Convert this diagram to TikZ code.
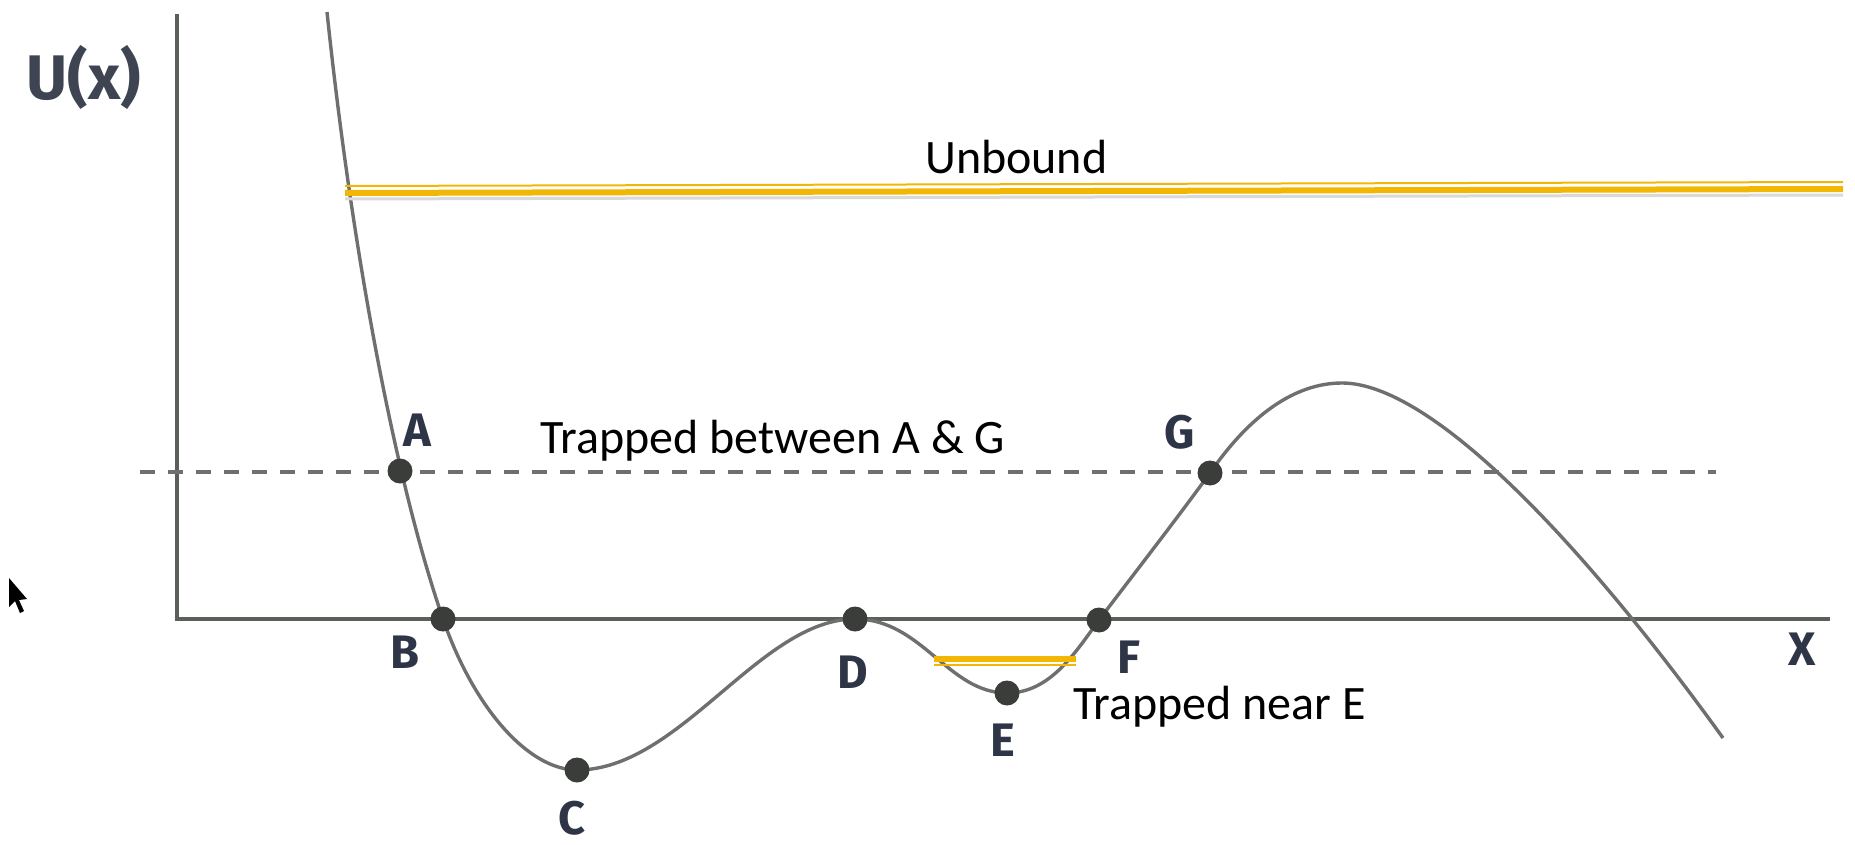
\documentclass[tikz,border=0pt]{standalone}
\usepackage{fontspec}
\setmainfont{Carlito}
\newfontfamily\lblfont{Fira Sans}
\definecolor{axiscol}{HTML}{5A5F5A}
\definecolor{curvecol}{HTML}{6E706E}
\definecolor{dotcol}{HTML}{3A3D3A}
\definecolor{lblcol}{HTML}{2E3546}
\definecolor{gold}{HTML}{F2B705}
\tikzset{
  axisline/.style={draw=axiscol, line width=4.5pt},
  curveline/.style={draw=curvecol, line width=3.4pt},
  ptdot/.style={circle, fill=dotcol, inner sep=0pt, minimum size=25pt},
  ptlbl/.style={font=\lblfont\bfseries\fontsize{47}{52}\selectfont, text=lblcol, inner sep=0pt},
  txt/.style={font=\fontsize{48}{56}\selectfont, text=black, inner sep=0pt},
  goldthick/.style={draw=gold, line width=6pt},
  goldthin/.style={draw=gold, line width=2pt},
  dashline/.style={draw=curvecol, line width=4pt, dash pattern=on 15pt off 13pt},
}
\begin{document}
\begin{tikzpicture}[x=1pt, y=-1pt]
\useasboundingbox (0,0) rectangle (1855,845);
% coordinates
\coordinate (top) at (327,12);
\coordinate (A) at (400,471);
\coordinate (B) at (443,619);
\coordinate (C) at (577,770);
\coordinate (D) at (855,619);
\coordinate (E) at (1007,693);
\coordinate (F) at (1099,620);
\coordinate (G) at (1210,473);
\coordinate (P) at (1342,383);
\coordinate (Z) at (1723,738);
\coordinate (yt) at (177,14);
\coordinate (o) at (177,619);
\coordinate (xr) at (1830,619);
\coordinate (dl) at (140,472);
\coordinate (dr) at (1716,472);
% axes
\draw[axisline] (yt) -- (o) -- (xr);
% dashed level
\draw[dashline] (dl) -- (dr);
% curve
\draw[curveline] (top) .. controls (352,250) and (395,480) .. (B)
  .. controls (475,711) and (530,770) .. (C)
  .. controls (680,770) and (760,619) .. (D)
  .. controls (922,619) and (948,693) .. (E)
  .. controls (1050,693) and (1075,653) .. (F)
  .. controls (1140,566) and (1175,521) .. (G)
  .. controls (1250,415) and (1295,383) .. (P)
  .. controls (1430,383) and (1579,538) .. (Z);
% unbound level
\coordinate (u1) at (345,193);
\coordinate (u2) at (1843,189);
\coordinate (u3) at (345,186);
\coordinate (u4) at (1843,182);
\draw[draw=black!15, line width=3pt] ([yshift=-6pt]u1) -- ([yshift=-6pt]u2);
\draw[goldthick] (u1) -- (u2);
\draw[goldthin] (u3) -- (u4);
% near E level
\coordinate (e1) at (934,659);
\coordinate (e2) at (1076,659);
\coordinate (e3) at (934,665);
\coordinate (e4) at (1076,665);
\draw[goldthick] (e1) -- (e2);
\draw[goldthin] (e3) -- (e4);
% dots
\node[ptdot] (dA) at (A) {};
\node[ptdot] (dB) at (B) {};
\node[ptdot] (dC) at (C) {};
\node[ptdot] (dD) at (D) {};
\node[ptdot] (dE) at (E) {};
\node[ptdot] (dF) at (F) {};
\node[ptdot] (dG) at (G) {};
% point labels
\node[ptlbl] (lA) at (417,430) {A};
\node[ptlbl] (lB) at (405,652) {B};
\node[ptlbl] (lC) at (572,818) {C};
\node[ptlbl] (lD) at (853,672) {D};
\node[ptlbl] (lE) at (1003,740) {E};
\node[ptlbl] (lF) at (1129,657) {F};
\node[ptlbl] (lG) at (1180,432) {G};
\node[ptlbl] (lX) at (1802,649) {X};
\node[ptlbl, font=\lblfont\bfseries\fontsize{63}{68}\selectfont, text=lblcol!80!gray] (lU) at (84,77) {U(x)};
% texts
\node[txt, anchor=base west] (tU) at (925,174) {Unbound};
\node[txt, anchor=base west] (tAG) at (540,453) {Trapped between A \& G};
\node[txt, anchor=base west] (tE) at (1073,719) {Trapped near E};
% cursor
\fill[black] (9,578) -- (9,607) -- (15,601) -- (20,613) -- (24,611) -- (19,600) -- (27,599) -- cycle;
\end{tikzpicture}
\end{document}
